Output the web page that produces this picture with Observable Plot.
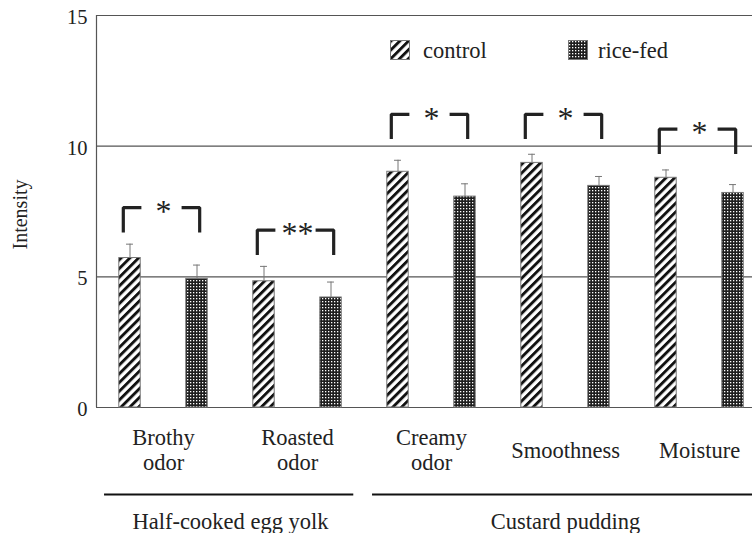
<!DOCTYPE html>
<html>
<head>
<meta charset="utf-8">
<script src="https://cdn.jsdelivr.net/npm/d3@7"></script>
<script src="https://cdn.jsdelivr.net/npm/@observablehq/plot@0.6"></script>
<style>
  html, body { margin: 0; padding: 0; background: #fff; }
  #wrap { position: relative; width: 752px; height: 533px; overflow: hidden; }
  #wrap svg.plot { max-width: none; }
  .lg-swatch { position: absolute; top: 40px; width: 20px; height: 20px; }
  .lg-text { position: absolute; top: 38px; font-family: "Liberation Serif", serif; font-size: 22.5px; color: #222; line-height: normal; white-space: nowrap; }
</style>
</head>
<body>
<svg width="0" height="0" style="position:absolute">
  <defs>
    <pattern id="hatch" patternUnits="userSpaceOnUse" width="6.2" height="6.2" patternTransform="rotate(45)">
      <rect width="6.2" height="6.2" fill="#fff"></rect>
      <rect width="2.9" height="6.2" fill="#111"></rect>
    </pattern>
    <pattern id="dots" patternUnits="userSpaceOnUse" width="3" height="3">
      <rect width="3" height="3" fill="#1e1e1e"></rect>
      <rect x="1" y="1" width="1.3" height="1.3" fill="#fff"></rect>
    </pattern>
  </defs>
</svg>
<div id="wrap">
  <div id="chart"></div>
  <svg class="lg-swatch" style="left:390px"><rect x="0.5" y="0.5" width="19" height="19" fill="url(#hatch)" stroke="#777"></rect></svg>
  <div class="lg-text" style="left:423px">control</div>
  <svg class="lg-swatch" style="left:568px"><rect x="0.5" y="0.5" width="19" height="19" fill="url(#dots)" stroke="#777"></rect></svg>
  <div class="lg-text" style="left:598px">rice-fed</div>
</div>
<script>
// ---- data ----
const categories = ["Brothy\nodor", "Roasted\nodor", "Creamy\nodor", "Smoothness", "Moisture"];
const groups = ["control", "rice-fed"];
const controlMean = [5.72, 4.83, 9.02, 9.36, 8.79];
const controlSE   = [0.53, 0.57, 0.44, 0.33, 0.30];
const riceMean    = [4.92, 4.21, 8.07, 8.48, 8.21];
const riceSE      = [0.53, 0.59, 0.49, 0.36, 0.32];
const sigLabels   = ["*", "**", "*", "*", "*"];
const bracketTop  = [7.65, 6.79, 11.22, 11.22, 10.65];
const foods       = ["Half-cooked egg yolk", "Custard pudding"];
const foodFirst   = [0, 2];
const foodLast    = [1, 4];
const yTicks      = [0, 5, 10, 15];

// ---- layout helpers (positions in category units) ----
const groupOffset = {"control": -0.25, "rice-fed": 0.25};
const halfBar = 0.08;

const bars = [];
categories.forEach((c, i) => {
  bars.push({i, group: groups[0], mean: controlMean[i], se: controlSE[i]});
  bars.push({i, group: groups[1], mean: riceMean[i], se: riceSE[i]});
});
const cx = d => d.i + groupOffset[d.group];
const ctrlBars = bars.filter(d => d.group === "control");
const riceBars = bars.filter(d => d.group === "rice-fed");

const catData = categories.map((label, i) => ({i, label}));
const sigData = sigLabels.map((s, i) => ({i, s, top: bracketTop[i]}));
const bracketPts = [];
sigData.forEach(d => {
  const h = 0.95;
  bracketPts.push({z: d.i + "L", x: d.i - 0.30, y: d.top - h});
  bracketPts.push({z: d.i + "L", x: d.i - 0.30, y: d.top});
  bracketPts.push({z: d.i + "L", x: d.i - 0.165, y: d.top});
  bracketPts.push({z: d.i + "R", x: d.i + 0.135, y: d.top});
  bracketPts.push({z: d.i + "R", x: d.i + 0.27, y: d.top});
  bracketPts.push({z: d.i + "R", x: d.i + 0.27, y: d.top - h});
});
const foodData = foods.map((name, k) => ({name, first: foodFirst[k], last: foodLast[k]}));

const chart = Plot.plot({
  width: 752,
  height: 533,
  marginLeft: 96,
  marginRight: 0,
  marginTop: 15,
  marginBottom: 126,
  x: {domain: [-0.5, 4.5], range: [96, 766], axis: null},
  y: {domain: [0, 15], axis: null},
  style: {fontFamily: "'Liberation Serif', serif", fontSize: "20px", color: "#222", background: "white"},
  marks: [
    Plot.ruleY(yTicks, {stroke: "#555", strokeWidth: 1.2}),
    Plot.ruleX([-0.5], {stroke: "#555", strokeWidth: 1.2}),
    Plot.axisY({ticks: yTicks, tickSize: 0, tickPadding: 9, label: null, dy: 2, fontSize: 20.5}),
    Plot.text(["Intensity"], {text: d => d, frameAnchor: "left", textAnchor: "middle", rotate: -90, dx: -76, dy: 3, fontSize: 20}),
    Plot.rectY(ctrlBars, {x1: d => cx(d) - halfBar, x2: d => cx(d) + halfBar, y1: 0, y2: "mean", fill: "url(#hatch)", stroke: "#777", strokeWidth: 1}),
    Plot.rectY(riceBars, {x1: d => cx(d) - halfBar, x2: d => cx(d) + halfBar, y1: 0, y2: "mean", fill: "url(#dots)", stroke: "#777", strokeWidth: 1}),
    Plot.ruleX(bars, {x: cx, y1: "mean", y2: d => d.mean + d.se, stroke: "#777", strokeWidth: 1}),
    Plot.ruleY(bars, {y: d => d.mean + d.se, x1: d => cx(d) - 0.026, x2: d => cx(d) + 0.026, stroke: "#777", strokeWidth: 1}),
    Plot.line(bracketPts, {x: "x", y: "y", z: "z", stroke: "#222", strokeWidth: 3.2, strokeLinejoin: "miter", strokeLinecap: "butt", curve: "linear"}),
    Plot.text(sigData, {x: "i", y: "top", text: "s", fontSize: 32, dy: 4, fill: "#222"}),
    Plot.text(catData, {x: "i", y: () => 0, text: "label", dy: 42, lineAnchor: "middle", lineHeight: 1.13, fontSize: 22.5, fill: "#222"}),
    Plot.ruleY(foodData, {y: () => 0, x1: d => d.first - 0.44, x2: d => d.last + 0.42, dy: 87, stroke: "#111", strokeWidth: 2}),
    Plot.text(foodData, {x: d => (d.first + d.last) / 2, y: () => 0, text: "name", dy: 114, lineAnchor: "middle", fontSize: 22.5, fill: "#222"})
  ]
});
document.getElementById("chart").appendChild(chart);
</script>
</body>
</html>
